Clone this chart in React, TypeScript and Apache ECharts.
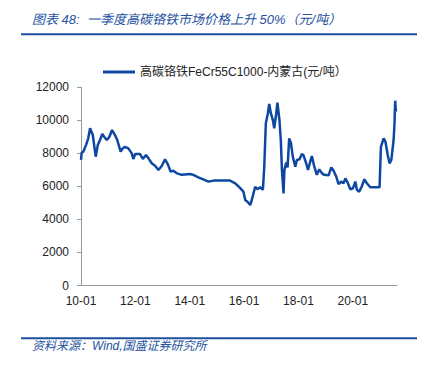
import React, { useEffect, useRef } from "react";
import * as echarts from "echarts";

// months since 2010-01 (fractional) and price (元/吨)
const monthIndex = [
  0, 0.3, 1.0, 2.2, 3.2, 4.0, 5.2, 6.5, 7.4, 8.4, 9.4, 10.3, 11.4, 12.5, 13.7, 15.0, 16.0, 17.5, 18.4, 19.4,
  20.9, 22.4, 23.1, 23.9, 26.1, 27.3, 28.7, 29.8, 31.2, 32.7, 34.2, 35.7, 37.1, 38.3, 39.6, 40.8, 42.3, 44.5,
  48.2, 49.6, 51.8, 54.0, 56.3, 58.5, 65.8, 68.1, 70.3, 71.7, 72.5, 73.5, 74.7, 75.4, 76.9, 77.9, 79.1, 80.3,
  80.9, 81.6, 82.5, 83.1, 83.8, 84.7, 85.3, 86.2, 86.7, 87.6, 88.2, 88.7, 89.4, 89.8, 90.6, 91.2, 91.9, 92.7,
  93.5, 94.6, 95.3, 96.5, 97.5, 98.2, 99.4, 100.2, 101.2, 101.9, 102.9, 104.1, 105.2, 106.4, 107.4, 109.3,
  110.5, 111.5, 112.7, 113.7, 114.8, 115.9, 116.7, 117.7, 118.9, 120.1, 121.1, 121.8, 122.8, 123.9, 125.1,
  126.2, 127.7, 129.9, 131.8, 132.4, 133.6, 134.4, 135.4, 136.2, 137.0, 138.0, 138.4, 138.7, 139.0,
];
const prices = [
  7600, 8040, 8100, 8500, 8910, 9520, 9110, 7800, 8500, 8810, 9170, 8990, 8810, 8990, 9410, 9110, 8810, 8100, 8300, 8400,
  8300, 8000, 7660, 7960, 7960, 7660, 7900, 7700, 7400, 7250, 6990, 7250, 7640, 7350, 6890, 6950, 6790, 6700,
  6750, 6700, 6550, 6430, 6290, 6350, 6350, 6190, 5890, 5680, 5180, 5070, 4870, 5180, 5980, 5830, 5950, 5800,
  7190, 9820, 10430, 10990, 10430, 10020, 9520, 10430, 11070, 10020, 8810, 7030, 5580, 6990, 7440, 7150, 8910, 8610,
  7800, 7190, 7600, 7640, 7960, 7900, 7400, 6990, 7500, 7840, 7250, 6700, 7030, 6790, 6700, 6670,
  7150, 6950, 6590, 6130, 6290, 6190, 6490, 6230, 5830, 5890, 6290, 5790, 5680, 5980, 6430,
  6190, 5950, 5950, 5950, 8400, 8910, 8700, 7900, 7400, 7600, 8810, 9820, 11190, 10530,
];
const yTicks = [0, 2000, 4000, 6000, 8000, 10000, 12000];
const xTickLabels = ["10-01", "12-01", "14-01", "16-01", "18-01", "20-01"];

const seriesName = "高碳铬铁FeCr55C1000-内蒙古(元/吨）";
const titleText = "图表 48:  一季度高碳铬铁市场价格上升 50%（元/吨）";
const sourceText = "资料来源：Wind,国盛证券研究所";

const BLUE = "#0E47A1";
const HEAD = "#2452A0";
const FONT = "'Liberation Sans', 'Noto Sans CJK SC', sans-serif";

export default function App() {
  const ref = useRef<HTMLDivElement>(null);
  useEffect(() => {
    if (!ref.current) return;
    const chart = echarts.init(ref.current, undefined, { renderer: "svg" });
    chart.setOption({
      animation: false,
      backgroundColor: "#fff",
      textStyle: { fontFamily: FONT },
      grid: { left: 81, right: 31, top: 87.3, bottom: 80.5, containLabel: false },
      legend: {
        show: true,
        left: 98,
        top: 61,
        icon: "rect",
        itemWidth: 32,
        itemHeight: 3,
        textStyle: { fontSize: 12, color: "#222", fontFamily: FONT },
        data: [seriesName],
      },
      xAxis: {
        type: "value",
        min: 0,
        max: 139.5,
        interval: 24,
        splitLine: { show: false },
        axisLine: { show: true, lineStyle: { color: "#999", width: 1 } },
        axisTick: { show: false },
        axisLabel: {
          showMaxLabel: false,
          fontSize: 12,
          color: "#222",
          margin: 9,
          formatter: (v: number) => xTickLabels[Math.round(v / 24)] ?? "",
        },
      },
      yAxis: {
        type: "value",
        min: yTicks[0],
        max: yTicks[yTicks.length - 1],
        interval: 2000,
        splitLine: { show: false },
        axisLine: { show: true, lineStyle: { color: "#999", width: 1 } },
        axisTick: { show: true, length: 4, lineStyle: { color: "#999" } },
        axisLabel: {
          fontSize: 12,
          color: "#222",
          margin: 12,
          formatter: (v: number) => String(v),
        },
      },
      series: [
        {
          name: seriesName,
          type: "line",
          data: monthIndex.map((m, i) => [m, prices[i]]),
          showSymbol: false,
          symbol: "none",
          lineStyle: { color: BLUE, width: 2.5 },
          itemStyle: { color: BLUE },
        },
      ],
      graphic: [
        {
          type: "text",
          left: 32,
          top: 13,
          style: {
            text: titleText,
            fontSize: 13,
            fontStyle: "italic",
            fill: HEAD,
            fontFamily: FONT,
          },
        },
        {
          type: "line",
          shape: { x1: 21, y1: 34.3, x2: 417, y2: 34.3 },
          style: { stroke: "#1D4F9F", lineWidth: 2 },
        },
        {
          type: "line",
          shape: { x1: 21, y1: 338.3, x2: 417, y2: 338.3 },
          style: { stroke: "#1D4F9F", lineWidth: 2 },
        },
        {
          type: "text",
          left: 32,
          top: 340,
          style: {
            text: sourceText,
            fontSize: 12,
            fontStyle: "italic",
            fill: HEAD,
            fontFamily: FONT,
          },
        },
      ],
    });
    return () => chart.dispose();
  }, []);
  return (
    <div
      ref={ref}
      style={{ position: "fixed", left: 0, top: 0, width: 428, height: 366 }}
    />
  );
}
